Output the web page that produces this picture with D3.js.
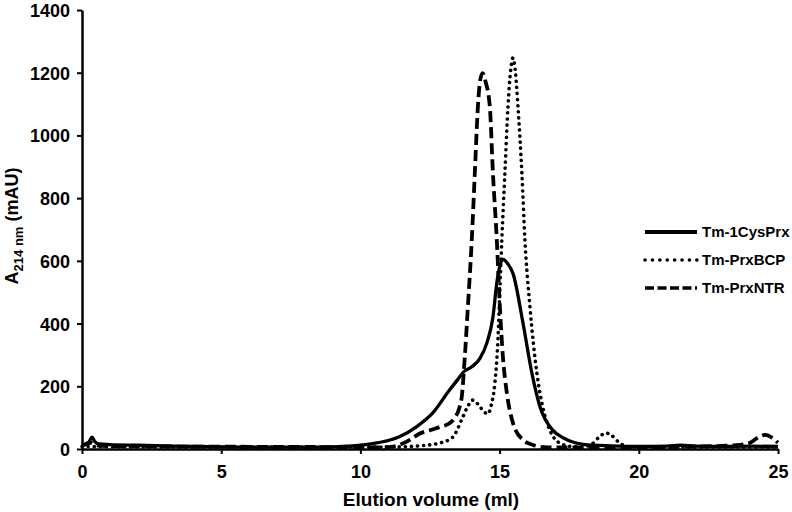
<!DOCTYPE html>
<html>
<head>
<meta charset="utf-8">
<script src="https://cdn.jsdelivr.net/npm/d3@7"></script>
<style>
  html, body { margin: 0; padding: 0; background: #fff; }
  svg text { font-family: "Liberation Sans", Arial, sans-serif; font-weight: bold; fill: #000; }
</style>
</head>
<body>
<svg id="chart" width="792" height="512"></svg>
<script>
// ---- data (elution volume in ml, absorbance in mAU) ----
const seriesNames = ["Tm-1CysPrx", "Tm-PrxBCP", "Tm-PrxNTR"];

const cysPrxVol = [0, 0.2, 0.3, 0.36, 0.45, 0.6, 1, 2, 3, 4, 5, 6, 7, 8, 9, 9.5, 10, 10.5, 11, 11.4, 12, 12.6, 13.2, 13.5, 13.7, 14.0, 14.3, 14.55, 14.76, 14.9, 15.0, 15.12, 15.3, 15.48, 15.84, 16.16, 16.45, 16.9, 17.3, 17.6, 18, 19, 20, 21, 21.5, 22, 23, 24, 25];
const cysPrxAbs = [12, 15, 30, 38, 25, 16, 14, 12, 10, 8, 7, 6, 6, 6, 7, 9, 12, 18, 27, 39, 70, 115, 188, 222, 245, 262, 290, 340, 420, 530, 580, 605, 590, 560, 402, 242, 135, 61, 35, 23, 15, 10, 8, 9, 12, 9, 8, 9, 8];

const bcpVol = [0, 1, 3, 5, 8, 11, 11.5, 12.1, 12.85, 13.32, 13.68, 13.85, 14.04, 14.25, 14.45, 14.58, 14.7, 14.83, 14.94, 15.01, 15.08, 15.19, 15.3, 15.4, 15.48, 15.56, 15.66, 15.8, 15.91, 16.09, 16.34, 16.55, 16.8, 17.16, 17.6, 18, 18.3, 18.6, 18.8, 19.0, 19.3, 19.6, 20, 22, 24, 25];
const bcpAbs = [8, 7, 6, 6, 6, 6, 7, 10, 19, 38, 102, 135, 156, 140, 118, 112, 140, 210, 348, 507, 666, 880, 1091, 1210, 1247, 1210, 1091, 880, 666, 453, 242, 134, 61, 19, 8, 8, 15, 40, 51, 45, 20, 8, 6, 6, 6, 6];

const ntrVol = [0, 0.3, 0.5, 1, 3, 6, 9, 10.5, 11, 11.4, 11.8, 12.1, 12.5, 12.85, 13.2, 13.4, 13.55, 13.64, 13.75, 13.86, 14.0, 14.11, 14.22, 14.3, 14.39, 14.5, 14.65, 14.76, 14.9, 15.01, 15.12, 15.26, 15.48, 15.84, 16.2, 16.6, 17, 20, 22, 23, 23.5, 24, 24.3, 24.55, 24.8, 25];
const ntrAbs = [10, 20, 12, 9, 8, 7, 6, 5, 6, 13, 30, 48, 60, 70, 82, 100, 130, 166, 293, 453, 666, 880, 1091, 1175, 1199, 1170, 1091, 880, 666, 453, 293, 179, 83, 29, 13, 6, 5, 5, 8, 10, 12, 20, 38, 45, 35, 20];

const xTicks = [0, 5, 10, 15, 20, 25];
const yTicks = [0, 200, 400, 600, 800, 1000, 1200, 1400];

// ---- layout ----
const svg = d3.select("#chart");
const x = d3.scaleLinear().domain([0, 25]).range([82, 778]);
const y = d3.scaleLinear().domain([0, 1400]).range([449, 10]);

const series = [
  { name: seriesNames[0], vol: cysPrxVol, abs: cysPrxAbs, dash: null, cap: "butt", w: 3.3 },
  { name: seriesNames[1], vol: bcpVol, abs: bcpAbs, dash: "0.1 6", cap: "round", w: 3.6 },
  { name: seriesNames[2], vol: ntrVol, abs: ntrAbs, dash: "11 5", cap: "butt", w: 3.8 }
];

const line = d3.line().x(d => x(d[0])).y(d => y(d[1])).curve(d3.curveMonotoneX);

const plot = svg.append("g");
series.forEach(s => {
  const pts = s.vol.map((v, i) => [v, s.abs[i]]);
  plot.append("path")
    .attr("d", line(pts))
    .attr("fill", "none")
    .attr("stroke", "#000")
    .attr("stroke-width", s.w)
    .attr("stroke-linecap", s.cap)
    .attr("stroke-linejoin", "round")
    .attr("stroke-dasharray", s.dash);
});

// ---- axes ----
const xAxis = svg.append("g").attr("transform", `translate(0,${y(0)})`)
  .call(d3.axisBottom(x).tickValues(xTicks).tickSize(5).tickSizeOuter(0).tickFormat(d3.format("d")));
const yAxis = svg.append("g").attr("transform", `translate(${x(0)},0)`)
  .call(d3.axisLeft(y).tickValues(yTicks).tickSize(5).tickSizeOuter(0).tickFormat(d3.format("d")));

[xAxis, yAxis].forEach(a => {
  a.select(".domain").attr("stroke", "#000").attr("stroke-width", 2.5);
  a.selectAll(".tick line").attr("stroke", "#000").attr("stroke-width", 2);
  a.selectAll(".tick text").style("font-size", "18px").attr("fill", "#000");
});
xAxis.selectAll(".tick text").attr("dy", null).attr("y", 29);
yAxis.selectAll(".tick text").attr("x", -12).attr("dy", "0.36em");

// axis titles
svg.append("text")
  .attr("x", 431).attr("y", 506)
  .attr("text-anchor", "middle")
  .style("font-size", "19px")
  .text("Elution volume (ml)");

const yt = svg.append("text")
  .attr("transform", "translate(18,226) rotate(-90)")
  .attr("text-anchor", "middle")
  .style("font-size", "18px");
yt.append("tspan").text("A");
yt.append("tspan").attr("dy", 5).style("font-size", "13px").text("214 nm");
yt.append("tspan").attr("dy", -5).text(" (mAU)");

// ---- legend ----
const legend = svg.append("g");
series.forEach((s, i) => {
  const ly = 232 + i * 28;
  legend.append("line")
    .attr("x1", 645).attr("x2", 697).attr("y1", ly).attr("y2", ly)
    .attr("stroke", "#000")
    .attr("stroke-width", i === 0 ? 4 : 3.6)
    .attr("stroke-linecap", s.cap)
    .attr("stroke-dasharray", i === 1 ? "0.1 7.3" : (i === 2 ? "9 3.5" : null));
  legend.append("text")
    .attr("x", 702).attr("y", ly).attr("dy", "0.36em")
    .style("font-size", "15px")
    .text(s.name);
});
</script>
</body>
</html>
